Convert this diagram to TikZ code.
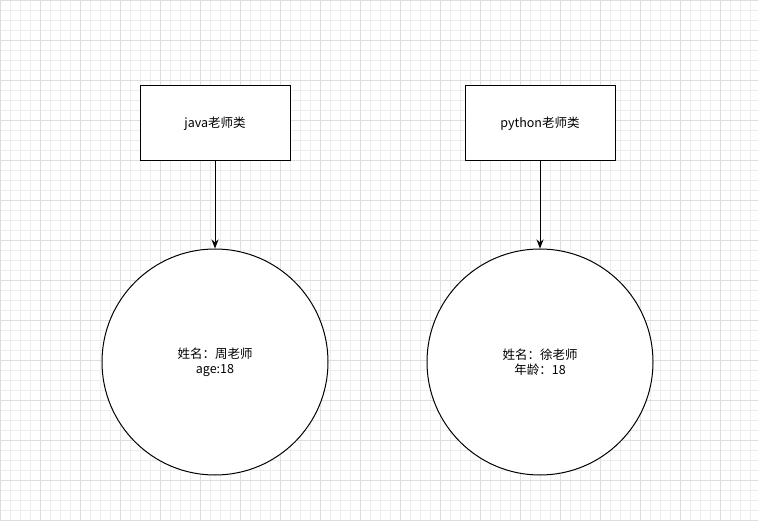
\documentclass[tikz,border=0pt]{standalone}
\usepackage{fontspec}
\setmainfont{Noto Sans CJK SC}
\usetikzlibrary{arrows.meta}
\begin{document}
\begin{tikzpicture}[x=1pt,y=-1pt,
  box/.style={draw,line width=1pt,minimum width=150pt,minimum height=75pt,inner sep=0,font=\fontsize{12.5}{15}\selectfont},
  circ/.style={draw,line width=1pt,circle,minimum size=226pt,inner sep=0,align=center,font=\fontsize{12.5}{15}\selectfont},
  arr/.style={-{Stealth[length=9pt,width=7pt]},line width=1pt}]
\useasboundingbox (0,0) rectangle (758,521);
\fill[white] (0,0) rectangle (758,521);
\foreach \i in {0,10,...,750} \draw[black!7,line width=0.5pt] (\i,0) -- (\i,521);
\foreach \i in {0,10,...,520} \draw[black!7,line width=0.5pt] (0,\i) -- (758,\i);
\foreach \i in {0,40,...,750} \draw[black!13,line width=0.5pt] (\i,0) -- (\i,521);
\foreach \i in {0,40,...,520} \draw[black!13,line width=0.5pt] (0,\i) -- (758,\i);
\node[box,fill=white] (j) at (215,123.5) {java老师类};
\node[box,fill=white] (p) at (540,123.5) {python老师类};
\node[circ,fill=white] (c1) at (215,362) {姓名：周老师\\age:18};
\node[circ,fill=white] (c2) at (540,362) {姓名：徐老师\\年龄：18};
\draw[arr] (j) -- (c1);
\draw[arr] (p) -- (c2);
\end{tikzpicture}
\end{document}
